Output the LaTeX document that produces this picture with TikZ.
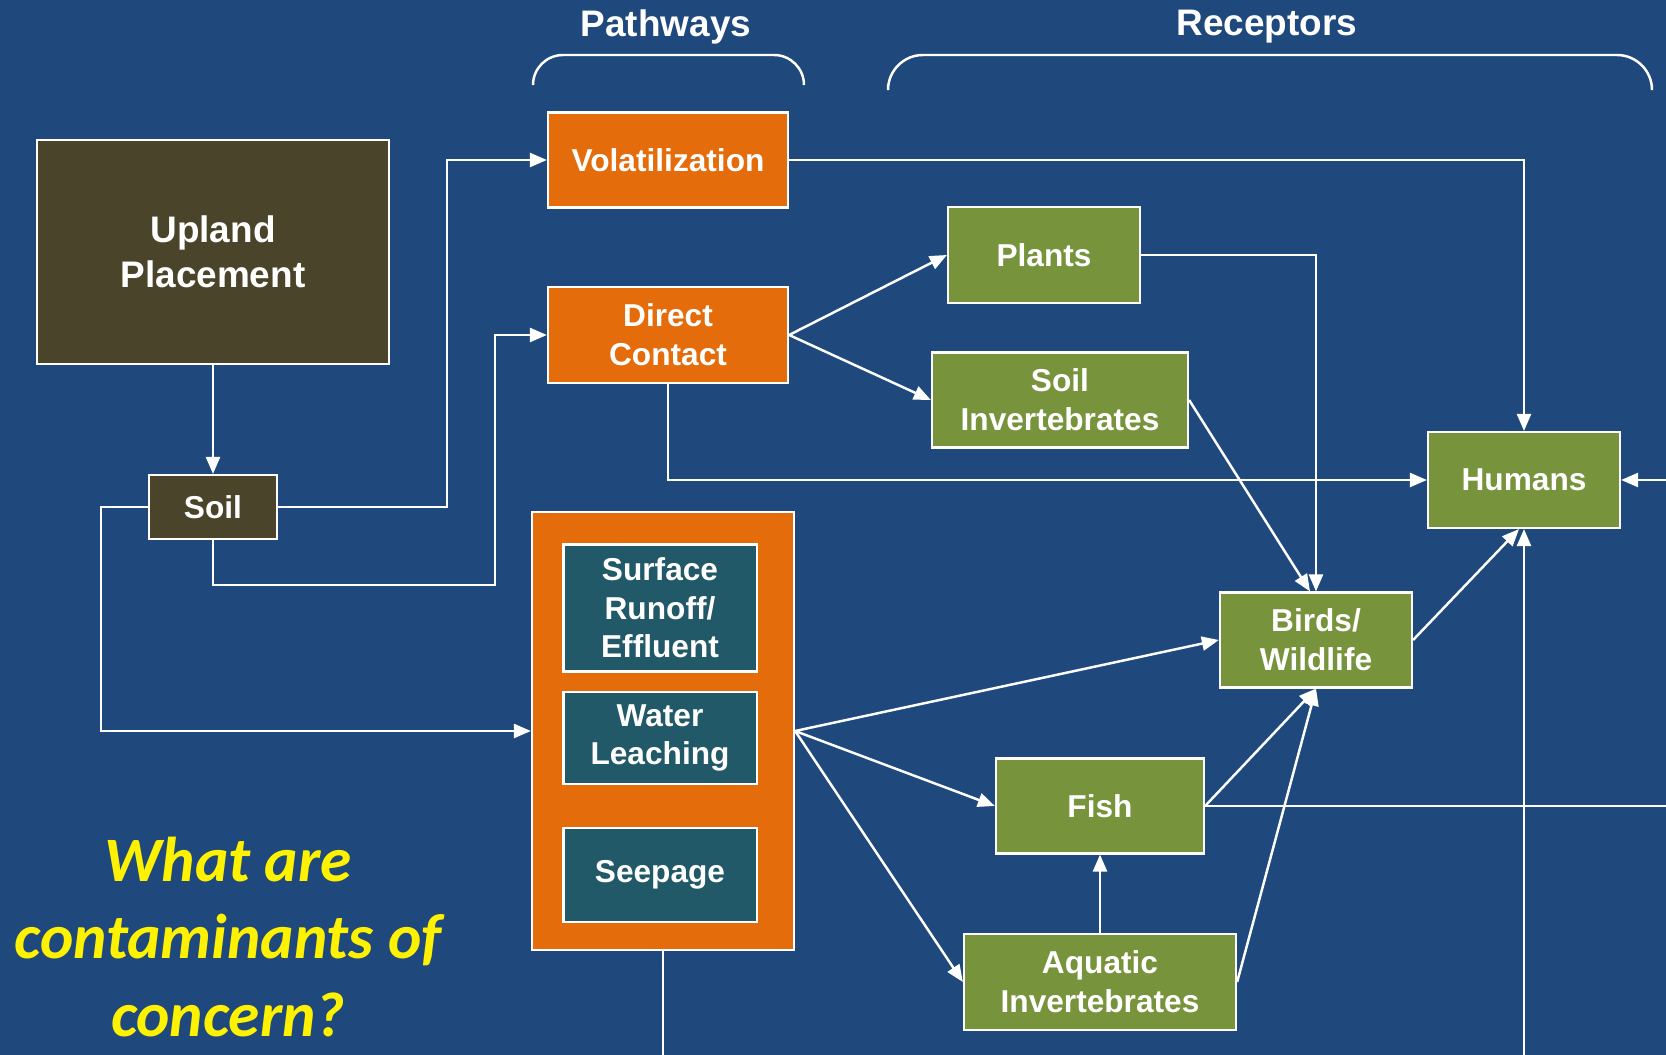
\documentclass[tikz,border=0pt]{standalone}
\usepackage{fontspec}
\setmainfont{Liberation Sans}
\newfontfamily\calfont{Carlito}
\usetikzlibrary{arrows.meta}
\definecolor{bgblue}{HTML}{1F497D}
\definecolor{tanbox}{HTML}{4A452A}
\definecolor{orangebox}{HTML}{E46C0A}
\definecolor{greenbox}{HTML}{77933C}
\definecolor{tealbox}{HTML}{215968}

\begin{document}
\begin{tikzpicture}[x=0.01cm, y=-0.01cm,
    box/.style={draw=white, line width=0.6pt, text=white, align=center, inner sep=0pt,
                font=\bfseries\fontsize{9}{11}\selectfont},
    source/.style={box, fill=tanbox},
    pathbox/.style={box, fill=orangebox},
    recep/.style={box, fill=greenbox},
    water/.style={box, fill=tealbox, minimum width=1.93cm},
    header/.style={text=white, font=\bfseries\fontsize{10.5}{12.7}\selectfont},
    link/.style={draw=white, line width=0.7pt},
    arr/.style={link, -{Triangle[length=0.17cm, width=0.14cm]}}]
        \fill[bgblue] (0,0) rectangle (1666,1055);
        \useasboundingbox (0,0) rectangle (1666,1055);

        \node[header] (pathhead) at (666,27) {Pathways};
        \node[header] (rechead) at (1267,27) {Receptors};
        \draw[link, rounded corners=0.3cm] (533,85) -- (533,55) -- (804,55) -- (804,85);
        \draw[link, rounded corners=0.35cm] (888,85) -- (888,55) -- (1652,55) -- (1652,85);

        \node[source, minimum width=3.52cm, minimum height=2.24cm, font=\bfseries\fontsize{10.5}{12.7}\selectfont] (upland) at (213,252) {Upland\\Placement};
        \node[source, minimum width=1.28cm, minimum height=0.64cm] (soil) at (213,507) {Soil};

        \node[pathbox, minimum width=2.4cm, minimum height=0.95cm] (vol) at (668,160) {Volatilization};
        \node[pathbox, minimum width=2.4cm, minimum height=0.96cm] (direct) at (668,335) {Direct\\Contact};
        \node[pathbox, minimum width=2.62cm, minimum height=4.37cm] (waterbox) at (663,731) {};
        \node[water, minimum height=1.27cm] (runoff) at (660,608) {Surface\\Runoff/\\Effluent};
        \node[water, minimum height=0.92cm] (leach) at (660,738) {Water\\Leaching};
        \node[water, minimum height=0.94cm] (seep) at (660,875) {\strut Seepage};

        \node[recep, minimum width=1.92cm, minimum height=0.96cm] (plants) at (1044,255) {Plants};
        \node[recep, minimum width=2.56cm, minimum height=0.95cm] (soilinv) at (1060,400) {Soil\\Invertebrates};
        \node[recep, minimum width=1.92cm, minimum height=0.96cm] (humans) at (1524,480) {Humans};
        \node[recep, minimum width=1.92cm, minimum height=0.95cm] (birds) at (1316,640) {Birds/\\Wildlife};
        \node[recep, minimum width=2.08cm, minimum height=0.95cm] (fish) at (1100,806) {Fish};
        \node[recep, minimum width=2.72cm, minimum height=0.96cm] (aquinv) at (1100,982) {Aquatic\\Invertebrates};

        \node[text=yellow, align=center, font=\calfont\bfseries\itshape\fontsize{18}{22}\selectfont] (question) at (228,937) {What are\\contaminants of\\concern?};

        % loose ends at the page edge
        \coordinate (fishout) at (1666,806);
        \coordinate (rightin) at (1666,480);
        \coordinate (bottomin) at (1524,1055);
        \coordinate (waterout) at (663,1055);

        \draw[arr] (upland) -- (soil);
        \draw[arr] (soil.east) -| (447,160) -- (vol.west);
        \draw[arr] (soil.south) |- (495,585) |- (direct.west);
        \draw[arr] (soil.west) -| (101,731) -- (waterbox.west);
        \draw[arr] (vol.east) -| (humans.north);
        \draw[arr] (direct.east) -- (plants.west);
        \draw[arr] (direct.east) -- (soilinv.west);
        \draw[arr] (direct.south) |- (humans.west);
        \draw[arr] (plants.east) -| (birds.north);
        \draw[arr] (soilinv.east) -- ([xshift=-0.06cm]birds.north);
        \draw[arr] (waterbox.east) -- (birds.west);
        \draw[arr] (waterbox.east) -- (fish.west);
        \draw[arr] (waterbox.east) -- (aquinv.west);
        \draw[arr] (aquinv) -- (fish);
        \draw[arr] (fish.east) -- (birds.south);
        \draw[arr] (aquinv.east) -- (birds.south);
        \draw[arr] (birds.east) -- ([xshift=-0.05cm]humans.south);
        \draw[link] (fish.east) -- (fishout);
        \draw[arr] (rightin) -- (humans.east);
        \draw[arr] (bottomin) -- (humans.south);
        \draw[link] (waterbox.south) -- (waterout);
    \end{tikzpicture}
\end{document}
